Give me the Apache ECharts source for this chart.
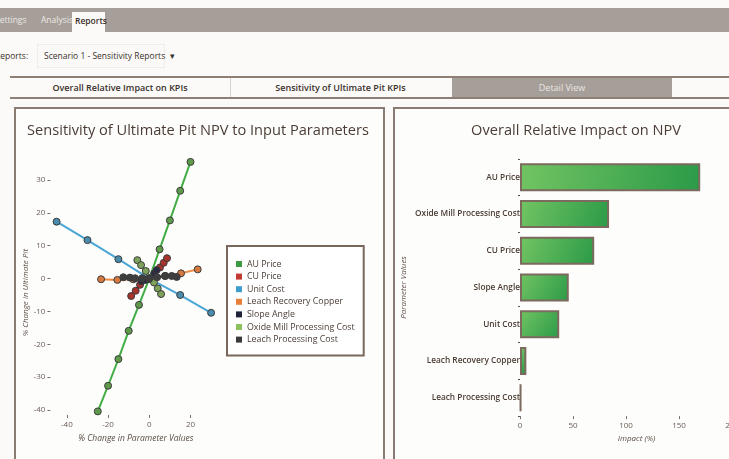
<!DOCTYPE html>
<html>
<head>
<meta charset="utf-8">
<script src="https://cdn.jsdelivr.net/npm/echarts@6/dist/echarts.min.js"></script>
<style>
  html, body { margin:0; padding:0; }
  body { width:729px; height:459px; overflow:hidden; background:#fbfaf9; font-family:"Open Sans", sans-serif; position:relative; }
  .abs { position:absolute; white-space:nowrap; }
  #topbar { left:0; top:8px; width:729px; height:24px; background:#a69e98; }
  .toptab { top:14px; font-size:8.5px; color:#ece8e4; }
  #reportsTab { left:72px; top:12px; width:33px; height:20px; background:#fbfaf9; }
  #reportsTxt { left:75px; top:15px; font-size:8.5px; color:#3a2e28; font-weight:600; }
  #repLabel { left:-5px; top:50px; font-size:8.5px; color:#3a302a; }
  #dropdown { left:37px; top:44px; width:128px; height:24px; border:1px solid #efecea; box-sizing:border-box; }
  #ddTxt { left:44px; top:50px; font-size:8.5px; color:#3a302a; }
  #tabrow { left:10px; top:76px; width:730px; height:23px; border-top:2px solid #8d7f76; border-bottom:2px solid #8d7f76; box-sizing:border-box; background:#fbfaf9; }
  .tab { top:0; height:19px; line-height:19px; text-align:center; font-size:9px; font-weight:600; color:#3a302a; }
  #panelL { left:14px; top:107px; width:371px; height:380px; border:2px solid #8b7c73; box-sizing:border-box; background:#fdfdfc; }
  #panelR { left:393px; top:107px; width:400px; height:380px; border:2px solid #8b7c73; box-sizing:border-box; background:#fdfdfc; }
  #chart { left:0; top:0; width:800px; height:459px; }
</style>
</head>
<body>
<div id="topbar" class="abs"></div>
<div class="abs toptab" style="left:-5px;">Settings</div>
<div class="abs toptab" style="left:41px;">Analysis</div>
<div id="reportsTab" class="abs"></div>
<div id="reportsTxt" class="abs">Reports</div>
<div id="repLabel" class="abs">Reports:</div>
<div id="dropdown" class="abs"></div>
<div id="ddTxt" class="abs">Scenario 1 - Sensitivity Reports &nbsp;&#9662;</div>
<div id="tabrow" class="abs">
  <div class="abs tab" style="left:0;width:220px;">Overall Relative Impact on KPIs</div>
  <div class="abs" style="left:220px;top:0;width:1px;height:19px;background:#d8d2ce;"></div>
  <div class="abs tab" style="left:220px;width:221px;">Sensitivity of Ultimate Pit KPIs</div>
  <div class="abs tab" style="left:442px;width:220px;background:#a69e98;color:#ebe7e3;font-weight:400;">Detail View</div>
</div>
<div id="panelL" class="abs"></div>
<div id="panelR" class="abs"></div>
<div id="chart" class="abs"></div>
<script>
// ---- data ----
const seriesNames = ['AU Price','CU Price','Unit Cost','Leach Recovery Copper','Slope Angle','Oxide Mill Processing Cost','Leach Processing Cost'];
const auPrice = [[-25,-40.4],[-20,-32.6],[-15,-24.5],[-10,-15.9],[-5,-8.0],[0,0],[5,8.9],[10,17.7],[15,26.7],[20,35.5]];
const cuPrice = [[-8.8,-5.3],[-6.6,-3.7],[-4.5,-1.9],[0,0],[5.2,3.4],[7.0,4.8],[8.6,6.2]];
const unitCost = [[-45,17.3],[-30,11.7],[-15,5.9],[0,0],[15,-5.0],[30,-10.4]];
const leachRecoveryCopper = [[-23.4,-0.2],[-15.5,-0.4],[-7.8,-0.2],[0,0],[7.8,0.8],[15.4,1.6],[23.5,2.8]];
const slopeAngle = [[-3.7,-0.8],[-1.8,-0.4],[0,0],[2.4,1.6],[3.6,2.6]];
const oxideMillCost = [[-5.8,5.6],[-4.0,4.1],[-1.7,2.3],[0,0],[2.3,-1.2],[4.1,-3.0],[5.7,-4.7]];
const leachProcessingCost = [[-12.6,0.4],[-9.4,0.3],[-6.9,0.1],[-3.5,0.1],[0,0],[3.8,0.4],[7.6,0.8],[10.9,0.8],[13.3,0.5]];
const sensitivityData = [auPrice, cuPrice, unitCost, leachRecoveryCopper, slopeAngle, oxideMillCost, leachProcessingCost];

const xTicks = [-40,-20,0,20];
const yTicks = [-40,-30,-20,-10,0,10,20,30];

const impactCategories = ['AU Price','Oxide Mill Processing Cost','CU Price','Slope Angle','Unit Cost','Leach Recovery Copper','Leach Processing Cost'];
const impactValues = [170,84,70,46,37,6,1];
const impactTicks = [0,50,100,150,200];

// ---- styles ----
const lineColors = ['#43ad45','#c63a30','#4aa6d6','#ef8a3e','#25263f','#8cc35c','#444444'];
const markerColors = ['#5f9a4c','#a8332d','#4a8cae','#d47a40','#2a2a40','#7fa25a','#3e3e3e'];
const legendColors = ['#3d9a44','#c23b33','#3e9dcc','#e97d3a','#20223a','#8cc35c','#3a3a3a'];
const textColor = '#4b3d35';
const labelColor = '#6b5d55';
const FONT = '"Open Sans", sans-serif';

const chart = echarts.init(document.getElementById('chart'), null, {renderer:'canvas'});

const lineSeries = seriesNames.map((name, i) => ({
  name: name,
  type: 'line',
  xAxisIndex: 0, yAxisIndex: 0,
  data: sensitivityData[i],
  clip: false,
  symbol: 'circle',
  symbolSize: 7,
  showSymbol: true,
  lineStyle: { width: 2, color: lineColors[i] },
  itemStyle: { color: markerColors[i], borderColor: '#3b3b3b', borderWidth: 1 },
  emphasis: { disabled: true },
  z: 3
}));

const option = {
  animation: false,
  textStyle: { fontFamily: FONT },
  title: [
    { text: 'Sensitivity of Ultimate Pit NPV to Input Parameters', left: 198, top: 123, textAlign: 'center', padding: 0,
      textStyle: { fontSize: 14.6, fontWeight: 500, color: textColor, fontFamily: FONT } },
    { text: 'Overall Relative Impact on NPV', left: 576, top: 123, textAlign: 'center', padding: 0,
      textStyle: { fontSize: 14.6, fontWeight: 500, color: textColor, fontFamily: FONT } }
  ],
  legend: {
    orient: 'vertical', left: 227, top: 246,
    padding: [13, 9, 11, 9],
    backgroundColor: '#ffffff',
    borderColor: '#7a665a', borderWidth: 2,
    itemWidth: 6, itemHeight: 6, itemGap: 2.6,
    icon: 'rect',
    textStyle: { fontSize: 8.8, color: '#4e4039', lineHeight: 10, fontFamily: FONT },
    data: seriesNames.map((n, i) => ({ name: n, itemStyle: { color: legendColors[i], borderWidth: 0 } })),
    selectedMode: false
  },
  grid: [
    { left: 50.4, top: 170.1, width: 171, height: 244.9, containLabel: false },
    { left: 520, top: 158.8, width: 233.2, height: 257.3, containLabel: false }
  ],
  xAxis: [
    { type: 'value', gridIndex: 0, min: -48, max: 35,
      name: '% Change in Parameter Values', nameLocation: 'middle', nameGap: 18,
      nameTextStyle: { fontSize: 8.5, fontStyle: 'italic', color: '#5a4c44' },
      axisLine: { show: false, onZero: false },
      axisTick: { show: true, length: 3, customValues: xTicks, lineStyle: { color: '#7a6e68' } },
      axisLabel: { customValues: xTicks, fontSize: 8, color: labelColor, margin: 6 },
      splitLine: { show: false } },
    { type: 'value', gridIndex: 1, min: 0, max: 220,
      name: 'Impact (%)', nameLocation: 'middle', nameGap: 17,
      nameTextStyle: { fontSize: 8, fontStyle: 'italic', color: '#5a4c44' },
      axisLine: { show: false, onZero: false },
      axisTick: { show: true, length: 3, customValues: impactTicks, lineStyle: { color: '#7a6e68' } },
      axisLabel: { customValues: impactTicks, fontSize: 8, color: labelColor, margin: 6 },
      splitLine: { show: false } }
  ],
  yAxis: [
    { type: 'value', gridIndex: 0, min: -41.5, max: 33,
      name: '% Change in Ultimate Pit', nameLocation: 'middle', nameGap: 21,
      nameTextStyle: { fontSize: 8, fontStyle: 'italic', color: '#5a4c44' },
      axisLine: { show: false, onZero: false },
      axisTick: { show: true, length: 3, customValues: yTicks, lineStyle: { color: '#7a6e68' } },
      axisLabel: { customValues: yTicks, fontSize: 8, color: labelColor, margin: 5 },
      splitLine: { show: false } },
    { type: 'category', gridIndex: 1, data: impactCategories, inverse: true,
      name: 'Parameter Values', nameLocation: 'middle', nameGap: 112,
      nameTextStyle: { fontSize: 8, fontStyle: 'italic', color: '#5a4c44' },
      axisLine: { show: false, onZero: false },
      axisTick: { show: true, length: 2, lineStyle: { color: '#555' } },
      axisLabel: { fontSize: 8.3, fontWeight: 600, color: '#4a3b33', margin: 0 },
      splitLine: { show: false } }
  ],
  series: lineSeries.concat([{
    name: 'Impact', type: 'bar', xAxisIndex: 1, yAxisIndex: 1,
    data: impactValues,
    barCategoryGap: '24%',
    itemStyle: {
      color: new echarts.graphic.LinearGradient(0, 0, 1, 1, [
        { offset: 0, color: '#72c462' }, { offset: 1, color: '#2b9a48' }
      ]),
      borderColor: '#7c6a5e', borderWidth: 2
    },
    emphasis: { disabled: true },
    z: 2
  }])
};
chart.setOption(option);
</script>
</body>
</html>
